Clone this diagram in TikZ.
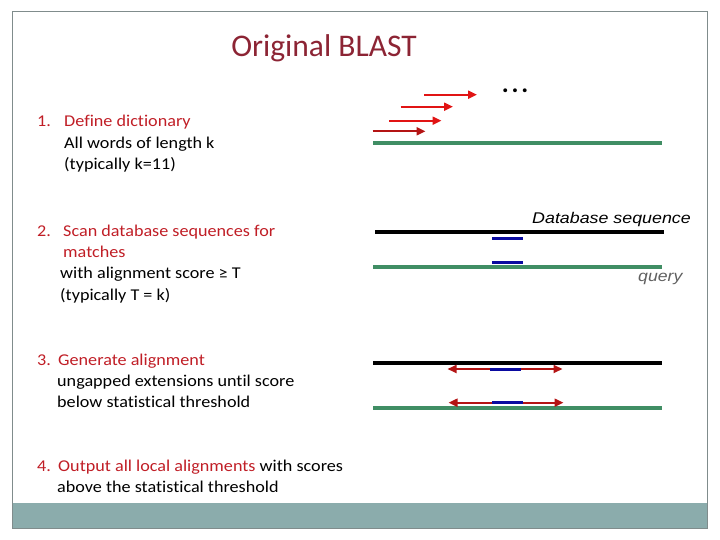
\documentclass[tikz,border=0pt]{standalone}
\usepackage{fontspec}
\setmainfont{Carlito}[Ligatures={NoCommon}]
\newfontfamily\arialfont{Liberation Sans}
\usetikzlibrary{arrows.meta}
\definecolor{titlered}{RGB}{140,36,52}
\definecolor{itemred}{RGB}{192,30,38}
\definecolor{seqgreen}{RGB}{64,142,100}
\definecolor{hitblue}{RGB}{10,10,160}
\definecolor{arrred}{RGB}{225,20,20}
\definecolor{extred}{RGB}{180,20,20}
\definecolor{footer}{RGB}{139,172,172}
\definecolor{framegray}{RGB}{128,140,140}
\tikzset{
  body/.style={anchor=base west, inner sep=0pt, xscale=1.1, font=\fontsize{16.5}{16.5}\selectfont},
  num/.style={body, text=itemred},
  greenseq/.style={draw=seqgreen, line width=4pt},
  blackseq/.style={draw=black, line width=4pt},
  hit/.style={draw=hitblue, line width=3pt},
  wordarrow/.style={draw=arrred, line width=2pt, -{Triangle[length=9pt,width=8pt]}},
  extarrow/.style={draw=extred, line width=2pt, -{Triangle[length=9pt,width=8pt]}},
}
\begin{document}
\begin{tikzpicture}[x=1pt,y=-1pt]
\useasboundingbox (0,0) rectangle (720,540);
% frame and footer
\fill[footer] (12,503) rectangle (707,528);
\draw[framegray, line width=1pt] (12,12) rectangle (707,528);
% title
\node[anchor=base, inner sep=0pt, text=titlered, font=\fontsize{31.5}{31.5}\selectfont] (title) at (324,56.5) {Original BLAST};
% list
\node[num] (n1) at (37,127) {1.};
\node[num] (t1) at (64,127) {Define dictionary};
\node[body] (t1a) at (64,148.5) {All words of length k};
\node[body] (t1b) at (64,170) {(typically k=11)};
\node[num] (n2) at (37,236.5) {2.};
\node[num] (t2) at (63,236.5) {Scan database sequences for};
\node[num] (t2a) at (63,257.5) {matches};
\node[body] (t2b) at (60,278.5) {with alignment score \char"2265{} T};
\node[body] (t2c) at (60,300) {(typically T = k)};
\node[num] (n3) at (37,365) {3.};
\node[num] (t3) at (58,365) {Generate alignment};
\node[body] (t3a) at (57,386) {ungapped extensions until score};
\node[body] (t3b) at (57,407) {below statistical threshold};
\node[num] (n4) at (37,471) {4.};
\node[body] (t4) at (58,471) {\textcolor{itemred}{Output all local alignments} with scores};
\node[body] (t4a) at (57,492) {above the statistical threshold};
% step 1 graphics
\node[anchor=center, inner sep=0pt, font=\fontsize{26}{26}\selectfont\bfseries] (dots) at (515,91) {.\hspace{2.8pt}.\hspace{2.8pt}.};
\coordinate (a1s) at (424,94.7); \coordinate (a1e) at (477,94.7);
\coordinate (a2s) at (400.7,106.7); \coordinate (a2e) at (453,106.7);
\coordinate (a3s) at (389,120.7); \coordinate (a3e) at (441.5,120.7);
\coordinate (a4s) at (372.7,131.3); \coordinate (a4e) at (425.5,131.3);
\draw[wordarrow] (a1s) -- (a1e);
\draw[wordarrow] (a2s) -- (a2e);
\draw[wordarrow] (a3s) -- (a3e);
\draw[wordarrow, draw=extred] (a4s) -- (a4e);
\coordinate (q1s) at (373,142.7); \coordinate (q1e) at (661.7,142.7);
\draw[greenseq] (q1s) -- (q1e);
% step 2 graphics
\node[anchor=base west, inner sep=0pt, xscale=1.15, font=\arialfont\itshape\fontsize{15.5}{15.5}\selectfont] (dblabel) at (532,223.3) {Database sequence};
\coordinate (d2s) at (375,232); \coordinate (d2e) at (664,232);
\draw[blackseq] (d2s) -- (d2e);
\coordinate (h2as) at (492.3,238.3); \coordinate (h2ae) at (522.7,238.3);
\draw[hit] (h2as) -- (h2ae);
\coordinate (h2bs) at (492.3,262); \coordinate (h2be) at (522.7,262);
\draw[hit] (h2bs) -- (h2be);
\coordinate (q2s) at (373,267); \coordinate (q2e) at (661.7,267);
\draw[greenseq] (q2s) -- (q2e);
\node[anchor=base west, inner sep=0pt, xscale=1.14, text={rgb,255:red,96;green,96;blue,96}, font=\arialfont\itshape\fontsize{15.5}{15.5}\selectfont] (qlabel) at (638,281) {query};
% step 3 graphics
\coordinate (d3s) at (373,363); \coordinate (d3e) at (661.7,363);
\draw[blackseq] (d3s) -- (d3e);
\coordinate (h3as) at (490,369); \coordinate (h3ae) at (521,369);
\coordinate (l3a) at (447.5,369); \coordinate (r3a) at (562.5,369);
\draw[extarrow] (h3as) -- (l3a);
\draw[extarrow] (h3ae) -- (r3a);
\draw[hit] (h3as) -- (h3ae);
\coordinate (q3s) at (373,408); \coordinate (q3e) at (661.7,408);
\draw[greenseq] (q3s) -- (q3e);
\coordinate (h3bs) at (492.3,402.7); \coordinate (h3be) at (523,402.7);
\coordinate (l3b) at (448.5,402.7); \coordinate (r3b) at (563.5,402.7);
\draw[extarrow] (h3bs) -- (l3b);
\draw[extarrow] (h3be) -- (r3b);
\draw[hit] (h3bs) -- (h3be);
\end{tikzpicture}
\end{document}
